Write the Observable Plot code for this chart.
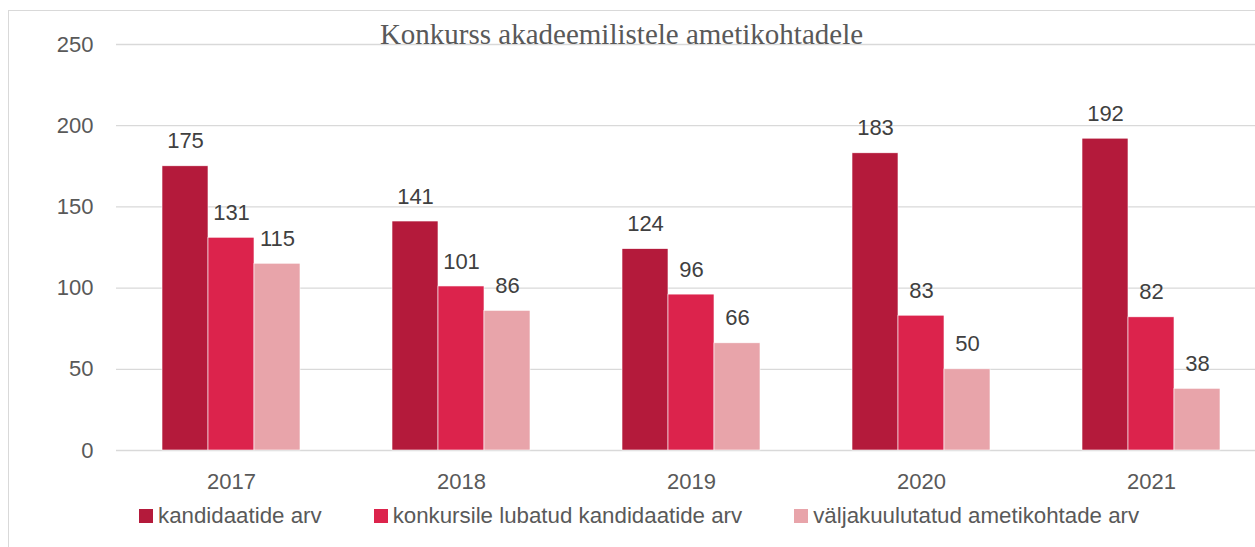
<!DOCTYPE html>
<html>
<head>
<meta charset="utf-8">
<script src="https://cdn.jsdelivr.net/npm/d3@7"></script>
<script src="https://cdn.jsdelivr.net/npm/@observablehq/plot@0.6"></script>
<style>
  html, body { margin: 0; padding: 0; background: #fff; overflow: hidden; }
  #wrap { position: relative; width: 1255px; height: 547px; overflow: hidden; }
  #frame { position: absolute; left: 8px; top: 10px; width: 1300px; height: 600px; border: 1.5px solid #d9d9d9; box-sizing: border-box; }
  #title { position: absolute; left: 0; width: 1243px; top: 20px; text-align: center; font-family: "Liberation Serif", serif; font-size: 29px; line-height: 28px; color: #595959; white-space: nowrap; z-index: 2; }
  #chart { position: absolute; left: 0; top: 0; width: 1300px; }
  #chart svg { max-width: none !important; }
  #legend { position: absolute; left: 139px; top: 503px; display: flex; gap: 52px; font-family: "Liberation Sans", sans-serif; font-size: 22.3px; color: #595959; white-space: nowrap; }
  .item { display: flex; align-items: center; }
  .sw { width: 14px; height: 14px; margin-right: 5px; }
</style>
</head>
<body>
<div id="wrap">
  <div id="frame"></div>
  <div id="chart"></div>
  <div id="title">Konkurss akadeemilistele ametikohtadele</div>
  <div id="legend"></div>
</div>
<script>
const years = ["2017", "2018", "2019", "2020", "2021"];
const seriesNames = ["kandidaatide arv", "konkursile lubatud kandidaatide arv", "väljakuulutatud ametikohtade arv"];
const kandidaatideArv = [175, 141, 124, 183, 192];
const lubatudKandidaatideArv = [131, 101, 96, 83, 82];
const ametikohtadeArv = [115, 86, 66, 50, 38];
const colors = ["#B41A3B", "#DC234C", "#E8A4AA"];
const yTicks = [0, 50, 100, 150, 200, 250];

const seriesValues = [kandidaatideArv, lubatudKandidaatideArv, ametikohtadeArv];
const data = [];
years.forEach((y, i) => {
  seriesNames.forEach((s, j) => {
    data.push({year: y, series: s, value: seriesValues[j][i]});
  });
});

const chart = Plot.plot({
  width: 1270,
  height: 500,
  marginLeft: 116,
  marginRight: 4,
  marginTop: 44,
  marginBottom: 50,
  style: {fontFamily: "'Liberation Sans', sans-serif", fontSize: "22px", color: "#595959", background: "transparent", maxWidth: "none"},
  fx: {domain: years, padding: 0, axis: "bottom", tickSize: 0, tickPadding: 23, label: null},
  x: {domain: seriesNames, paddingInner: 0, paddingOuter: 1, axis: null},
  y: {domain: [0, 250], ticks: yTicks, tickSize: 0, tickPadding: 23, label: null},
  color: {domain: seriesNames, range: colors},
  marks: [
    Plot.ruleY(yTicks, {stroke: "#d9d9d9", strokeWidth: 1.3}),
    Plot.barY(data, {fx: "year", x: "series", y: "value", fill: "series", stroke: "#ffffff", strokeWidth: 0.6, inset: 0}),
    Plot.text(data, {fx: "year", x: "series", y: "value", text: d => String(d.value), dy: -25, fill: "#404040"})
  ]
});
document.getElementById("chart").appendChild(chart);

const legend = document.getElementById("legend");
seriesNames.forEach((s, i) => {
  const item = document.createElement("div");
  item.className = "item";
  const sw = document.createElement("span");
  sw.className = "sw";
  sw.style.background = colors[i];
  const t = document.createElement("span");
  t.textContent = s;
  item.appendChild(sw);
  item.appendChild(t);
  legend.appendChild(item);
});
</script>
</body>
</html>
